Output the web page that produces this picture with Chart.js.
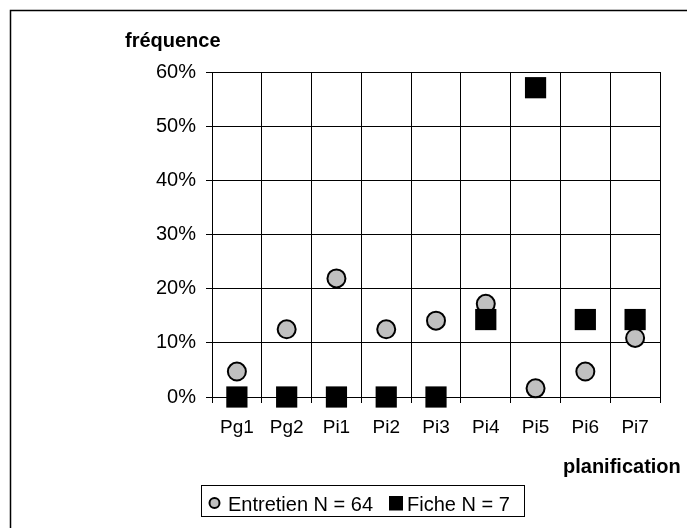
<!DOCTYPE html>
<html>
<head>
<meta charset="utf-8">
<script src="https://cdn.jsdelivr.net/npm/chart.js@4"></script>
<style>
  html, body { margin: 0; padding: 0; background: #fff; }
  #wrap { width: 687px; height: 528px; position: relative; }
</style>
</head>
<body>
<div id="wrap"><canvas id="c" width="687" height="528"></canvas></div>
<script>
const categories = ["Pg1", "Pg2", "Pi1", "Pi2", "Pi3", "Pi4", "Pi5", "Pi6", "Pi7"];
const entretienValues = [0.047, 0.125, 0.219, 0.125, 0.141, 0.172, 0.016, 0.047, 0.109];
const ficheValues = [0, 0, 0, 0, 0, 0.143, 0.571, 0.143, 0.143];
const seriesLabels = ["Entretien N = 64", "Fiche N = 7"];
const yTitle = "fréquence";
const xTitle = "planification";
const yMin = 0, yMax = 0.6, yStep = 0.1;

const FONT = '"Liberation Sans", Arial, sans-serif';

const decorPlugin = {
  id: 'decor',
  beforeDraw(chart) {
    const ctx = chart.ctx;
    ctx.save();
    ctx.fillStyle = '#fff';
    ctx.fillRect(0, 0, chart.width, chart.height);
    ctx.restore();
  },
  afterDraw(chart) {
    const ctx = chart.ctx;
    ctx.save();
    // outer frame
    ctx.strokeStyle = '#000';
    ctx.lineWidth = 1.5;
    ctx.beginPath();
    ctx.moveTo(10.5, 540);
    ctx.lineTo(10.5, 10.5);
    ctx.lineTo(700, 10.5);
    ctx.stroke();
    // axis titles
    ctx.fillStyle = '#000';
    ctx.font = 'bold 20px ' + FONT;
    ctx.textBaseline = 'alphabetic';
    ctx.textAlign = 'left';
    ctx.fillText(yTitle, 125, 47);
    ctx.fillText(xTitle, 563, 473);
    // legend box
    ctx.lineWidth = 1;
    ctx.strokeRect(201.5, 485.5, 323, 31);
    const ds = chart.data.datasets;
    ctx.font = '20px ' + FONT;
    // circle marker
    ctx.beginPath();
    ctx.arc(214.5, 503, 5, 0, Math.PI * 2);
    ctx.fillStyle = ds[0].backgroundColor;
    ctx.fill();
    ctx.lineWidth = 2;
    ctx.strokeStyle = '#000';
    ctx.stroke();
    ctx.fillStyle = '#000';
    ctx.fillText(ds[0].label, 228, 511);
    // square marker
    ctx.fillStyle = ds[1].backgroundColor;
    ctx.fillRect(389, 496, 14, 14.5);
    ctx.fillStyle = '#000';
    ctx.fillText(ds[1].label, 407, 511);
    ctx.restore();
  }
};

new Chart(document.getElementById('c'), {
  type: 'line',
  data: {
    labels: categories,
    datasets: [
      {
        label: seriesLabels[0],
        data: entretienValues,
        showLine: false,
        clip: false,
        pointStyle: 'circle',
        pointRadius: 9,
        pointHoverRadius: 9,
        pointBorderWidth: 2,
        borderColor: '#000',
        backgroundColor: '#c0c0c0',
        pointBackgroundColor: '#c0c0c0',
        pointBorderColor: '#000',
        order: 1
      },
      {
        label: seriesLabels[1],
        data: ficheValues,
        showLine: false,
        clip: false,
        pointStyle: 'rect',
        pointRadius: 15,
        pointHoverRadius: 15,
        pointBorderWidth: 0,
        borderColor: '#000',
        backgroundColor: '#000',
        pointBackgroundColor: '#000',
        pointBorderColor: '#000',
        order: 0
      }
    ]
  },
  options: {
    responsive: false,
    animation: false,
    devicePixelRatio: 1,
    layout: { padding: { left: 0, top: 72, right: 27, bottom: 0 } },
    plugins: {
      legend: { display: false },
      tooltip: { enabled: false },
      title: { display: false }
    },
    scales: {
      x: {
        type: 'category',
        offset: true,
        grid: {
          offset: true,
          color: '#000',
          lineWidth: 1,
          drawTicks: true,
          tickLength: 6,
          tickColor: '#000'
        },
        border: { display: true, color: '#000', width: 1 },
        ticks: {
          color: '#000',
          font: { family: FONT, size: 19 },
          padding: 13,
          maxRotation: 0,
          autoSkip: false
        },
        afterFit(scale) { scale.height = 131; }
      },
      y: {
        min: yMin,
        max: yMax,
        grid: {
          color: '#000',
          lineWidth: 1,
          drawTicks: true,
          tickLength: 6,
          tickColor: '#000'
        },
        border: { display: true, color: '#000', width: 1 },
        ticks: {
          stepSize: yStep,
          color: '#000',
          font: { family: FONT, size: 20 },
          padding: 10,
          callback: (v) => Math.round(v * 100) + '%'
        },
        afterFit(scale) { scale.width = 212; }
      }
    }
  },
  plugins: [decorPlugin]
});
</script>
</body>
</html>
